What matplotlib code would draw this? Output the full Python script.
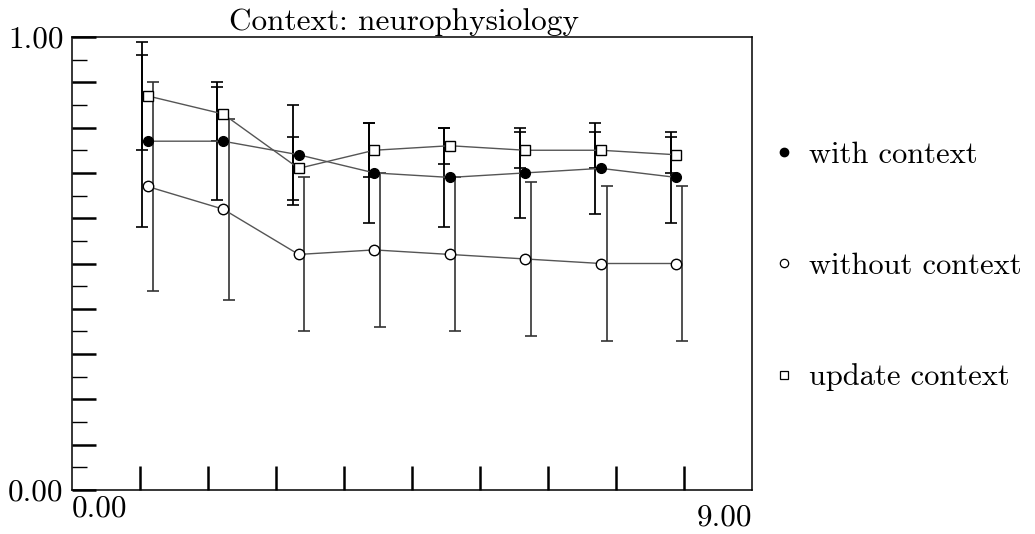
import numpy as np
import matplotlib
matplotlib.use("Agg")
import matplotlib.pyplot as plt
from matplotlib.lines import Line2D
from matplotlib.ticker import FixedLocator

plt.rcParams['font.family'] = ['cmr10', 'DejaVu Serif']
plt.rcParams['axes.formatter.use_mathtext'] = True
plt.rcParams['axes.unicode_minus'] = False

# data
x = np.array([1, 2, 3, 4, 5, 6, 7, 8])
with_ctx = [0.77, 0.77, 0.74, 0.70, 0.69, 0.70, 0.71, 0.69]
with_err = [0.19, 0.13, 0.11, 0.11, 0.11, 0.10, 0.10, 0.10]
without_ctx = [0.67, 0.62, 0.52, 0.53, 0.52, 0.51, 0.50, 0.50]
without_err = [0.23, 0.20, 0.17, 0.17, 0.17, 0.17, 0.17, 0.17]
update_ctx = [0.87, 0.83, 0.71, 0.75, 0.76, 0.75, 0.75, 0.74]
update_err = [0.12, 0.06, 0.07, 0.06, 0.04, 0.04, 0.04, 0.04]

labels = ["with context", "without context", "update context"]
xtick_pos = np.arange(1, 10) * 0.9
ytick_major = np.round(np.arange(0, 1.01, 0.1), 2)
ytick_minor = np.round(np.arange(0.05, 1.0, 0.1), 2)

fig = plt.figure(figsize=(10.35, 5.34), dpi=100)
ax = fig.add_axes([72/1035, 1-490/534, 680/1035, 453/534])

off = 0.075
# error bars (left of point for with/update, right for without)
ax.errorbar(x - off, with_ctx, yerr=with_err, fmt='none', ecolor='black',
            elinewidth=1.3, capsize=4, capthick=1.2)
ax.errorbar(x - off, update_ctx, yerr=update_err, fmt='none', ecolor='black',
            elinewidth=1.3, capsize=4, capthick=1.2)
ax.errorbar(x + off, without_ctx, yerr=without_err, fmt='none', ecolor='#333333',
            elinewidth=1.2, capsize=4, capthick=1.2)

# series lines with markers
ax.plot(x, with_ctx, color='#555555', lw=1, marker='o', ms=7,
        mfc='black', mec='black')
ax.plot(x, without_ctx, color='#555555', lw=1, marker='o', ms=7.5,
        mfc='white', mec='black', mew=1)
ax.plot(x, update_ctx, color='#555555', lw=1, marker='s', ms=7.5,
        mfc='white', mec='black', mew=1)

ax.set_xlim(0, 9)
ax.set_ylim(0, 1)

# ticks
ax.xaxis.set_major_locator(FixedLocator(xtick_pos))
ax.set_xticklabels([])
ax.tick_params(axis='x', direction='in', length=17, width=1.8, bottom=True, top=False)

ax.yaxis.set_major_locator(FixedLocator(ytick_major))
ax.yaxis.set_minor_locator(FixedLocator(ytick_minor))
ylab = ['' for _ in ytick_major]
ylab[0] = '0.00'
ylab[-1] = '1.00'
ax.set_yticklabels(ylab)
ax.tick_params(axis='y', which='major', direction='in', length=17, width=1.8,
               labelsize=22.5, pad=6, right=False)
ax.tick_params(axis='y', which='minor', direction='in', length=11, width=1.0, right=False)

ax.text(0, -0.010, '0.00', transform=ax.get_xaxis_transform(), ha='left', va='top',
        fontsize=22.5)
ax.text(9, -0.030, '9.00', transform=ax.get_xaxis_transform(), ha='right', va='top',
        fontsize=22.5)

for s in ax.spines.values():
    s.set_linewidth(1.1)

ax.set_title('Context: neurophysiology', fontsize=22.5, pad=5, x=0.4875)

handles = [Line2D([], [], ls='none', marker='o', ms=6, mfc='black', mec='black'),
           Line2D([], [], ls='none', marker='o', ms=6, mfc='white', mec='black', mew=0.9),
           Line2D([], [], ls='none', marker='s', ms=6, mfc='white', mec='black', mew=0.9)]
ax.legend(handles, labels, loc='center left', bbox_to_anchor=(1.032, 0.494),
          frameon=False, fontsize=22, labelspacing=2.74, handlelength=0.7,
          handletextpad=0.45, borderpad=0, borderaxespad=0)

fig.savefig('out.png', dpi=100)
